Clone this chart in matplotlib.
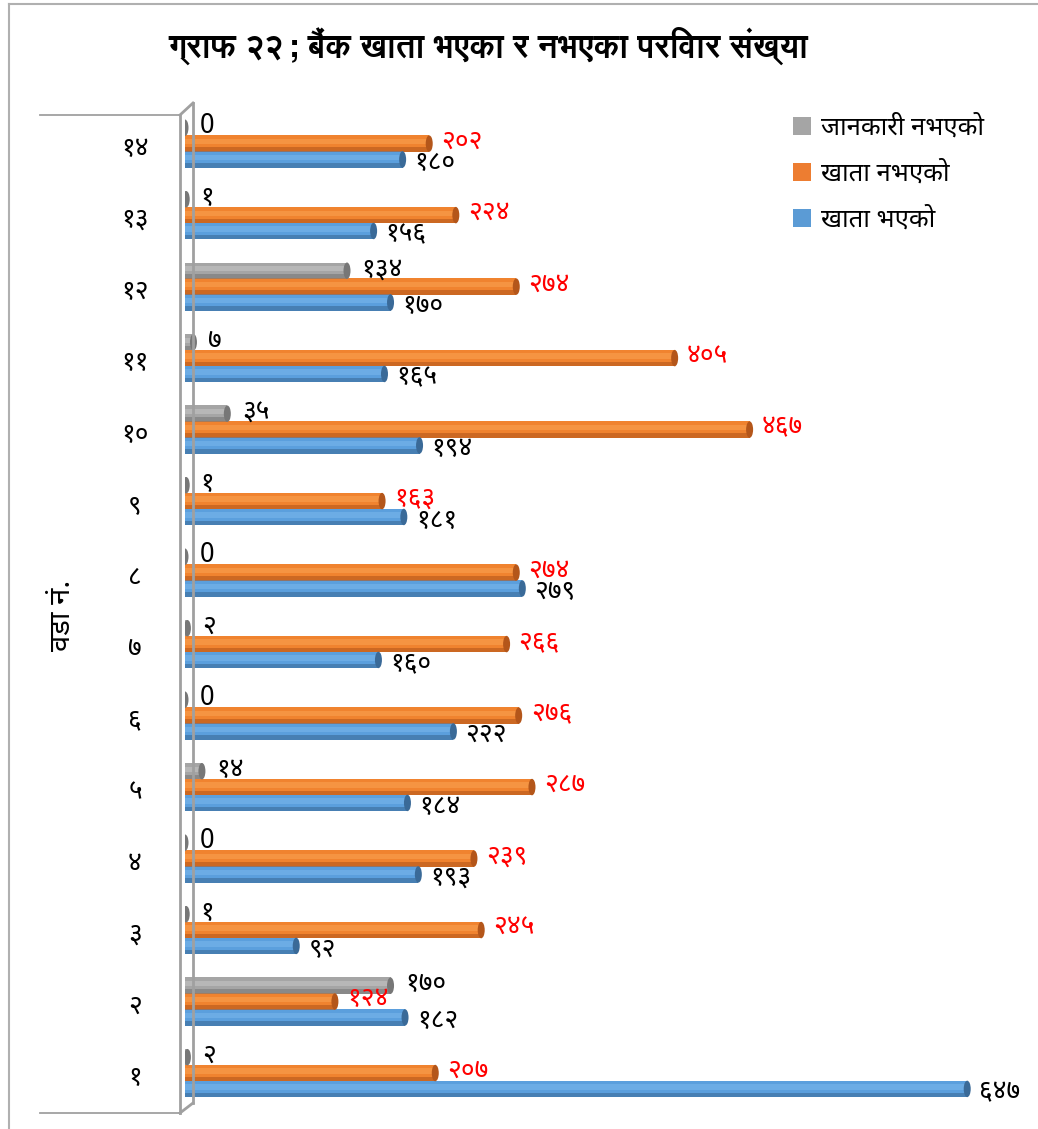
import numpy as np
import matplotlib.pyplot as plt
from matplotlib import font_manager
from matplotlib.patches import Ellipse, Patch
from matplotlib.lines import Line2D

# choose a Devanagari font that is installed
installed = {f.name for f in font_manager.fontManager.ttflist}
dev_font = 'DejaVu Sans'
for name in ['Noto Sans Devanagari', 'Hind', 'Mukta', 'FreeSans']:
    if name in installed:
        dev_font = name
        break
title_font = 'FreeSans' if 'FreeSans' in installed else dev_font
plt.rcParams['font.family'] = [dev_font, 'DejaVu Sans']

# data (wards 1..14)
wards = ['१', '२', '३', '४', '५', '६', '७', '८', '९', '१०', '११', '१२', '१३', '१४']
no_info = [2, 170, 1, 0, 14, 0, 2, 0, 1, 35, 7, 134, 1, 0]
no_account = [207, 124, 245, 239, 287, 276, 266, 274, 163, 467, 405, 274, 224, 202]
has_account = [647, 182, 92, 193, 184, 222, 160, 279, 181, 194, 165, 170, 156, 180]
series_names = ['जानकारी नभएको', 'खाता नभएको', 'खाता भएको']
title = 'ग्राफ २२; बैंक खाता भएका र नभएका परिवार संख्या'
ylabel = 'वडा नं.'

digits = str.maketrans('0123456789', '०१२३४५६७८९')
def to_dev(n):
    return '0' if n == 0 else str(n).translate(digits)

W, H = 1038, 1129
fig = plt.figure(figsize=(W / 100, H / 100), dpi=100)
ax = fig.add_axes([185 / W, 1 - 1110 / H, (1000 - 185) / W, 1010 / H])
ax.set_xlim(0, (1000 - 185) / 1.209)
ax.set_ylim(-0.517, 13.61)
ax.axis('off')

y = np.arange(len(wards))
h = 0.23
step = 0.222
cap_w = 7 / 1.209

def cylinder(vals, offset, color, light, dark):
    yy = y + offset
    ax.barh(yy, vals, height=h, color=color, edgecolor='none', zorder=2)
    # highlight and shadow strips give the tube look
    ax.barh(yy + h * 0.12, vals, height=h * 0.32, color=light, alpha=0.6,
            edgecolor='none', zorder=3)
    ax.barh(yy - h * 0.36, vals, height=h * 0.28, color=dark, alpha=0.6,
            edgecolor='none', zorder=3)
    for v, c in zip(vals, yy):
        ax.add_patch(Ellipse((v, c), cap_w, h, facecolor=dark, edgecolor='none',
                             zorder=4))

cylinder(no_info, step, '#A5A5A5', '#C4C4C4', '#777777')
cylinder(no_account, 0, '#F0832F', '#F9A050', '#B4561A')
cylinder(has_account, -step, '#5B9FDD', '#78B6EC', '#3A6A98')

fs = 19
for i in range(len(wards)):
    ax.text(no_info[i] + 12, y[i] + step + 0.02, to_dev(no_info[i]), fontsize=fs,
            color='black', va='center', ha='left', zorder=5)
    ax.text(no_account[i] + 10, y[i] + 0.03, to_dev(no_account[i]), fontsize=fs,
            color='red', va='center', ha='left', zorder=5)
    ax.text(has_account[i] + 10, y[i] - step - 0.05, to_dev(has_account[i]),
            fontsize=fs, color='black', va='center', ha='left', zorder=5)
    ax.text(-50 / 1.209, y[i] - 0.07, wards[i], fontsize=fs, ha='center',
            va='center', zorder=5)

# chart frame, floor lines and the left wall, in figure pixels
def fline(xs, ys, lw=1.3, color='#A0A0A0'):
    fig.add_artist(Line2D([x / W for x in xs], [1 - v / H for v in ys],
                          color=color, lw=lw, transform=fig.transFigure))

fline([9, W], [4, 4], lw=1.5, color='#B0B0B0')
fline([9, 9], [4, H], lw=1.5, color='#B0B0B0')
fline([40, 180], [115, 115])
fline([40, 180], [1113, 1113])
fline([180, 180], [115, 1113], lw=2)
fline([193, 193], [103, 1103], lw=2)
fline([180, 193], [115, 103], lw=2)
fline([180, 193], [1113, 1103], lw=2)

# title, sized so it spans about the same width as the original
t = fig.text(488 / W, 1 - 46 / H, title, fontsize=22, fontweight='bold',
             family=[title_font, dev_font, 'DejaVu Sans'],
             ha='center', va='center')
r = fig.canvas.get_renderer()
tw = t.get_window_extent(r).width
t.set_fontsize(22 * 640 / tw)

fig.text(62 / W, 1 - 615 / H, ylabel, fontsize=21, rotation=90,
         ha='center', va='center')

handles = [Patch(facecolor=c) for c in ['#A5A5A5', '#ED7D31', '#5B9BD5']]
fig.legend(handles, series_names, loc='upper left',
           bbox_to_anchor=(770 / W, 1 - 92 / H), frameon=False, fontsize=18.5,
           handlelength=0.7, handleheight=0.7, handletextpad=0.4,
           labelspacing=0.8)

fig.savefig('out.png', dpi=100)
